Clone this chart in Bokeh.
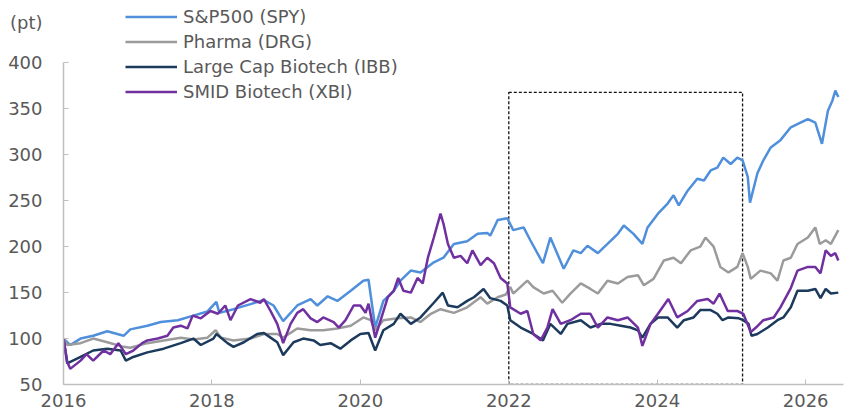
from bokeh.plotting import figure
from bokeh.models import Legend, LegendItem, FixedTicker, Range1d, LinearAxis
from bokeh.embed import file_html
from bokeh.resources import INLINE

# ---- data (decimal years, index points) ----
spy_x = [2016.00, 2016.09, 2016.23, 2016.40, 2016.59, 2016.81, 2016.90, 2017.13, 2017.31, 2017.54,
         2017.75, 2017.94, 2018.06, 2018.10, 2018.29, 2018.52, 2018.70, 2018.83, 2018.96, 2019.15,
         2019.33, 2019.42, 2019.56, 2019.69, 2019.87, 2020.04, 2020.11, 2020.20, 2020.31, 2020.45,
         2020.54, 2020.68, 2020.81, 2020.99, 2021.12, 2021.26, 2021.44, 2021.58, 2021.71, 2021.75,
         2021.85, 2021.98, 2022.06, 2022.20, 2022.29, 2022.46, 2022.56, 2022.74, 2022.87, 2022.97,
         2023.06, 2023.20, 2023.33, 2023.47, 2023.55, 2023.68, 2023.80, 2023.87, 2024.01, 2024.14,
         2024.22, 2024.29, 2024.41, 2024.54, 2024.63, 2024.72, 2024.81, 2024.89, 2024.99, 2025.08,
         2025.15, 2025.22, 2025.25, 2025.35, 2025.43, 2025.53, 2025.66, 2025.80, 2025.93, 2026.03,
         2026.13, 2026.22, 2026.30, 2026.36, 2026.40, 2026.44]
spy_y = [100, 93, 100, 103, 108, 103, 110, 114, 118, 120,
         125, 129.5, 140, 128, 132, 137.5, 142, 136, 119, 136,
         143, 136, 146, 141, 152, 163, 164, 112, 141, 152,
         163, 174, 172, 183, 188, 203, 206, 214, 215, 212,
         229, 231, 218, 221, 207, 182, 210, 176, 196, 193,
         201, 193, 203, 214, 223, 214, 203, 221, 236, 247,
         256, 245, 261, 274, 272, 283, 286, 297, 290, 297,
         294, 276, 248, 280, 294, 308, 316, 330, 335, 339,
         335, 312, 348, 359, 370, 363]

drg_x = [2016.00, 2016.05, 2016.23, 2016.40, 2016.59, 2016.81, 2016.90, 2017.13, 2017.35, 2017.58,
         2017.75, 2017.94, 2018.05, 2018.12, 2018.29, 2018.52, 2018.70, 2018.88, 2018.96, 2019.15,
         2019.33, 2019.50, 2019.69, 2019.87, 2020.04, 2020.14, 2020.20, 2020.31, 2020.50, 2020.68,
         2020.81, 2020.95, 2021.08, 2021.26, 2021.44, 2021.62, 2021.71, 2021.85, 2021.96, 2022.02,
         2022.06, 2022.25, 2022.33, 2022.47, 2022.59, 2022.72, 2022.83, 2022.97, 2023.10, 2023.20,
         2023.33, 2023.47, 2023.60, 2023.74, 2023.82, 2023.95, 2024.09, 2024.22, 2024.32, 2024.45,
         2024.58, 2024.65, 2024.76, 2024.85, 2024.96, 2025.08, 2025.15, 2025.22, 2025.26, 2025.39,
         2025.53, 2025.62, 2025.70, 2025.80, 2025.89, 2026.03, 2026.13, 2026.19, 2026.27, 2026.34,
         2026.44]
drg_y = [100, 93, 95, 100, 96, 91, 90, 95, 98, 101,
         99, 101, 109, 101, 98, 100, 105, 105, 101, 111,
         109, 109, 111, 114, 123, 120, 109, 120, 122, 123,
         118, 127, 132, 128, 134, 145, 138, 145, 148, 156,
         149, 163, 156, 149, 152, 139, 149, 160, 154, 149,
         163, 160, 167, 169, 158, 165, 185, 188, 182, 196,
         200, 210, 200, 178, 172, 178, 193, 178, 165, 174,
         171, 163, 185, 188, 203, 210, 221, 203, 207, 203,
         218]

ibb_x = [2016.00, 2016.05, 2016.23, 2016.40, 2016.59, 2016.77, 2016.84, 2016.94, 2017.13, 2017.35,
         2017.58, 2017.75, 2017.85, 2018.02, 2018.06, 2018.21, 2018.29, 2018.43, 2018.61, 2018.70,
         2018.79, 2018.88, 2018.96, 2019.10, 2019.23, 2019.37, 2019.46, 2019.60, 2019.73, 2019.87,
         2020.00, 2020.11, 2020.20, 2020.31, 2020.45, 2020.54, 2020.68, 2020.81, 2020.99, 2021.11,
         2021.18, 2021.31, 2021.44, 2021.53, 2021.66, 2021.75, 2021.89, 2021.98, 2022.02, 2022.16,
         2022.33, 2022.46, 2022.56, 2022.70, 2022.79, 2022.97, 2023.10, 2023.24, 2023.37, 2023.51,
         2023.64, 2023.74, 2023.80, 2023.91, 2024.01, 2024.14, 2024.27, 2024.36, 2024.49, 2024.58,
         2024.72, 2024.81, 2024.88, 2024.96, 2025.10, 2025.16, 2025.23, 2025.27, 2025.35, 2025.49,
         2025.62, 2025.70, 2025.80, 2025.89, 2026.03, 2026.13, 2026.20, 2026.27, 2026.34, 2026.44]
ibb_y = [100, 73, 80, 87, 89, 87, 76, 80, 85, 89,
         95, 100, 93, 100, 105, 95, 91, 96, 105, 106,
         101, 96, 82, 96, 100, 98, 93, 95, 89, 98,
         105, 106, 87, 109, 116, 127, 116, 123, 139, 150,
         136, 134, 141, 145, 154, 144, 141, 136, 120, 112,
         105, 98, 116, 105, 116, 120, 112, 116, 116, 114,
         112, 109, 101, 116, 123, 123, 112, 120, 123, 131,
         131, 127, 120, 123, 122, 120, 116, 103, 105, 112,
         120, 123, 134, 152, 152, 154, 144, 154, 149, 150]

xbi_x = [2016.00, 2016.05, 2016.09, 2016.23, 2016.31, 2016.40, 2016.54, 2016.63, 2016.74, 2016.84,
         2016.94, 2017.06, 2017.13, 2017.27, 2017.40, 2017.48, 2017.58, 2017.67, 2017.74, 2017.85,
         2017.98, 2018.08, 2018.18, 2018.25, 2018.35, 2018.52, 2018.65, 2018.70, 2018.79, 2018.88,
         2018.96, 2019.06, 2019.15, 2019.23, 2019.33, 2019.42, 2019.50, 2019.64, 2019.71, 2019.80,
         2019.91, 2020.00, 2020.07, 2020.11, 2020.20, 2020.30, 2020.37, 2020.45, 2020.51, 2020.58,
         2020.68, 2020.77, 2020.84, 2020.91, 2020.99, 2021.08, 2021.12, 2021.18, 2021.26, 2021.35,
         2021.44, 2021.51, 2021.62, 2021.71, 2021.80, 2021.89, 2021.98, 2022.02, 2022.16, 2022.25,
         2022.33, 2022.43, 2022.52, 2022.59, 2022.70, 2022.83, 2022.97, 2023.10, 2023.20, 2023.33,
         2023.47, 2023.60, 2023.74, 2023.80, 2023.91, 2024.01, 2024.15, 2024.27, 2024.41, 2024.54,
         2024.68, 2024.76, 2024.84, 2024.95, 2025.08, 2025.16, 2025.26, 2025.33, 2025.43, 2025.57,
         2025.66, 2025.80, 2025.89, 2026.03, 2026.13, 2026.20, 2026.27, 2026.34, 2026.40, 2026.44]
xbi_y = [100, 75, 67, 76, 83, 76, 87, 83, 95, 83,
         87, 95, 98, 100, 103, 112, 114, 111, 125, 122,
         130, 127, 136, 120, 136, 143, 139, 143, 130, 116,
         95, 116, 128, 132, 122, 118, 123, 118, 112, 120,
         136, 136, 128, 138, 101, 127, 145, 152, 166, 152,
         150, 166, 160, 188, 210, 236, 225, 203, 188, 190,
         182, 196, 180, 188, 182, 166, 160, 134, 127, 130,
         105, 98, 112, 132, 116, 120, 127, 127, 112, 123,
         120, 123, 112, 92, 116, 127, 143, 123, 130, 141,
         143, 138, 149, 130, 130, 127, 107, 112, 120, 123,
         134, 155, 174, 178, 178, 171, 196, 190, 193, 185]

series_names = ["S&P500 (SPY)", "Pharma (DRG)", "Large Cap Biotech (IBB)", "SMID Biotech (XBI)"]
series_colors = ["#4f8fdb", "#9b9b9b", "#1b3a5c", "#7030a0"]

x_ticks = [2016, 2018, 2020, 2022, 2024, 2026]
x_start, x_end = 2016.0, 2026.51
y_ticks = [50, 100, 150, 200, 250, 300, 350, 400]
y_min, y_max = 50, 400
y_view_top = 468.0           # headroom above 400 for legend and unit label
unit_label = "(pt)"
unit_label_at = 444          # level of the "(pt)" unit label

# highlighted period box (data units)
box_start, box_end = 2022.0, 2025.15
box_bottom, box_top = 50, 368

TEXT = "#595959"
AXIS = "#bfbfbf"
FONT = "DejaVu Sans"
FS = "18px"

p = figure(width=844, height=417, output_backend="svg", toolbar_location=None,
           x_range=Range1d(x_start, x_end), y_range=Range1d(y_min, y_view_top),
           min_border_left=63, min_border_right=1, min_border_top=0, min_border_bottom=33)
p.outline_line_color = None
p.grid.visible = False
p.background_fill_color = "white"

# x axis
xa = p.xaxis[0]
xa.ticker = FixedTicker(ticks=x_ticks)
xa.major_label_overrides = {t: str(t) for t in x_ticks}
xa.axis_line_color = AXIS
xa.axis_line_width = 1.5
xa.major_tick_line_color = AXIS
xa.major_tick_in = 5
xa.major_tick_out = 0
xa.minor_tick_line_color = None
xa.major_label_text_color = TEXT
xa.major_label_text_font = FONT
xa.major_label_text_font_size = FS
xa.major_label_standoff = 9

# y axis: line + inward ticks only (bounded to 50..400), labels not drawn
ya = p.yaxis[0]
ya.ticker = FixedTicker(ticks=y_ticks)
ya.bounds = (y_min, y_max)
ya.axis_line_color = AXIS
ya.axis_line_width = 1.5
ya.major_tick_line_color = AXIS
ya.major_tick_in = 5
ya.major_tick_out = 0
ya.minor_tick_line_color = None
ya.major_label_text_font_size = "1px"
ya.major_label_text_color = None
ya.major_label_standoff = 0

# y labels (incl. unit label) on a second, line-less axis
ylab = LinearAxis(ticker=FixedTicker(ticks=y_ticks + [unit_label_at]),
                  major_label_overrides={unit_label_at: unit_label},
                  axis_line_color=None, major_tick_line_color=None, minor_tick_line_color=None,
                  major_tick_in=0, major_tick_out=0,
                  major_label_text_color=TEXT, major_label_text_font=FONT,
                  major_label_text_font_size=FS, major_label_standoff=21)
p.add_layout(ylab, "left")

p.quad(left=[box_start], right=[box_end], bottom=[box_bottom], top=[box_top],
       fill_alpha=0, line_color="#111111", line_dash="3 2", line_width=1.3)

renderers = []
for xs, ys, c in [(spy_x, spy_y, series_colors[0]), (drg_x, drg_y, series_colors[1]),
                  (ibb_x, ibb_y, series_colors[2]), (xbi_x, xbi_y, series_colors[3])]:
    renderers.append(p.line(xs, ys, line_color=c, line_width=2.5))

legend = Legend(items=[LegendItem(label=n, renderers=[r]) for n, r in zip(series_names, renderers)],
                location=(62, 282), orientation="vertical",
                glyph_width=52, glyph_height=21, label_height=21, spacing=4,
                label_standoff=6, padding=0, margin=0,
                border_line_alpha=0, background_fill_alpha=0,
                label_text_font=FONT, label_text_font_size=FS, label_text_color=TEXT)
p.add_layout(legend)

open("out.html", "w").write(file_html(p, INLINE))
